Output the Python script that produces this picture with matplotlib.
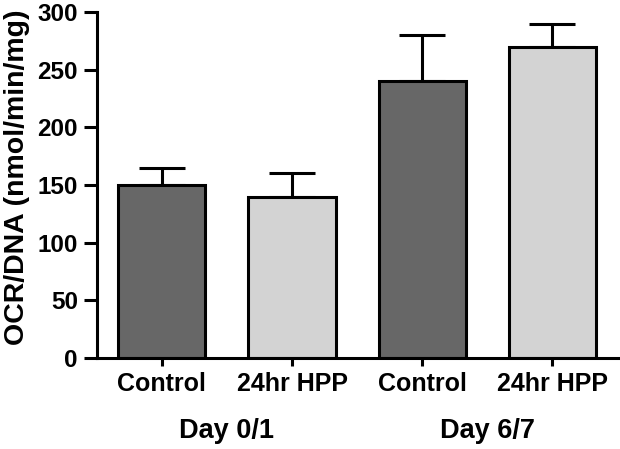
import matplotlib
matplotlib.use("Agg")
import matplotlib.pyplot as plt
import numpy as np

plt.rcParams['font.family'] = ['Liberation Sans', 'DejaVu Sans']
plt.rcParams['font.weight'] = 'bold'

labels = ["Control", "24hr HPP", "Control", "24hr HPP"]
values = [150, 140, 240, 270]
errors = [15, 20, 40, 20]
colors = ["#676767", "#d3d3d3", "#676767", "#d3d3d3"]
groups = ["Day 0/1", "Day 6/7"]

fig = plt.figure(figsize=(6.2, 4.49), dpi=100)
ax = fig.add_axes([0.156, 0.203, 0.84, 0.77])

x = np.arange(len(values))
ax.bar(x, values, width=0.67, color=colors, edgecolor="black", linewidth=2.2, zorder=2)
ax.errorbar(x, values, yerr=[np.zeros(len(errors)), errors], fmt="none",
            ecolor="black", elinewidth=2.2, capsize=16.5, capthick=2.2, zorder=1)

ax.set_xlim(-0.5, 3.5)
ax.set_ylim(0, 300)
ax.set_yticks(np.arange(0, 301, 50))
ax.set_xticks(x)
ax.set_xticklabels(labels, fontsize=18, fontweight="bold")
for t in ax.get_yticklabels():
    t.set_fontsize(17.5)
    t.set_fontweight("bold")
ax.tick_params(axis="y", length=9.5, width=2.2, pad=4)
ax.tick_params(axis="x", length=6, width=2.2, pad=4)

for s in ["top", "right"]:
    ax.spines[s].set_visible(False)
for s in ["left", "bottom"]:
    ax.spines[s].set_linewidth(2.2)

fig.text(17 / 620, 0.605, "OCR/DNA (nmol/min/mg)", rotation=90, ha="center", va="center",
         fontsize=20.5, fontweight="bold")

for i, g in enumerate(groups):
    ax.text(2 * i + 0.5, -0.211, g, transform=ax.get_xaxis_transform(),
            ha="center", va="center", fontsize=19.5, fontweight="bold")

fig.savefig("out.png", dpi=100)
